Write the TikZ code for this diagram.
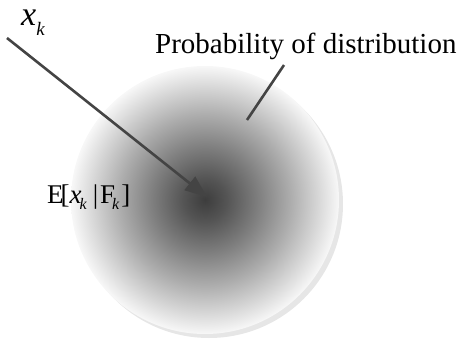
\documentclass[tikz,border=0pt]{standalone}
\usepackage{fontspec}
\setmainfont{Liberation Serif}
\usetikzlibrary{arrows.meta}
\definecolor{blobink}{HTML}{444444}
\definecolor{blobrim}{HTML}{E6E6E6}
\pgfdeclareradialshading{blobshade}{\pgfpoint{0bp}{0bp}}{%
  gray(0bp)=(0.24); gray(4bp)=(0.33); gray(10bp)=(0.50); gray(16bp)=(0.68);
  gray(21bp)=(0.84); gray(25bp)=(0.97); gray(50bp)=(1)}
\newcommand{\subk}[2]{\raisebox{-#1}{\fontsize{#2}{#2}\selectfont\itshape k}}

\begin{document}
\begin{tikzpicture}[x=1pt,y=-1pt,
    leader/.style={draw=blobink, line width=2.6pt},
    lbl/.style={anchor=base west, inner sep=0pt, font=\rmfamily}]
  \useasboundingbox (0,0) rectangle (472,341);

  % probability cloud with its light rim
  \fill[blobrim] (209,204) circle (134);
  \shade[shading=blobshade] (205,200) circle (134);
  \coordinate (mean) at (207,197);
  \coordinate (cloudpt) at (247,120);

  \node[lbl] (xk) at (21,25) {\fontsize{34}{40}\selectfont\textit{x}\subk{10pt}{19}};
  \coordinate (xkfoot) at (7,38);
  \node[lbl] (prob) at (155,53) {\fontsize{29}{34}\selectfont Probability of distribution};
  \coordinate (probfoot) at (284,65);
  \node[lbl] (cond) at (47,203)
    {\fontsize{27}{32}\selectfont E\kern-3pt[\textit{x}\kern-2pt\subk{6pt}{16}\kern6pt|\kern2ptF\kern-3pt\subk{6pt}{16}\kern2pt]};

  \draw[leader, -{Triangle[length=22pt,width=17pt]}] (xkfoot) -- (mean);
  \draw[leader] (probfoot) -- (cloudpt);
\end{tikzpicture}
\end{document}
